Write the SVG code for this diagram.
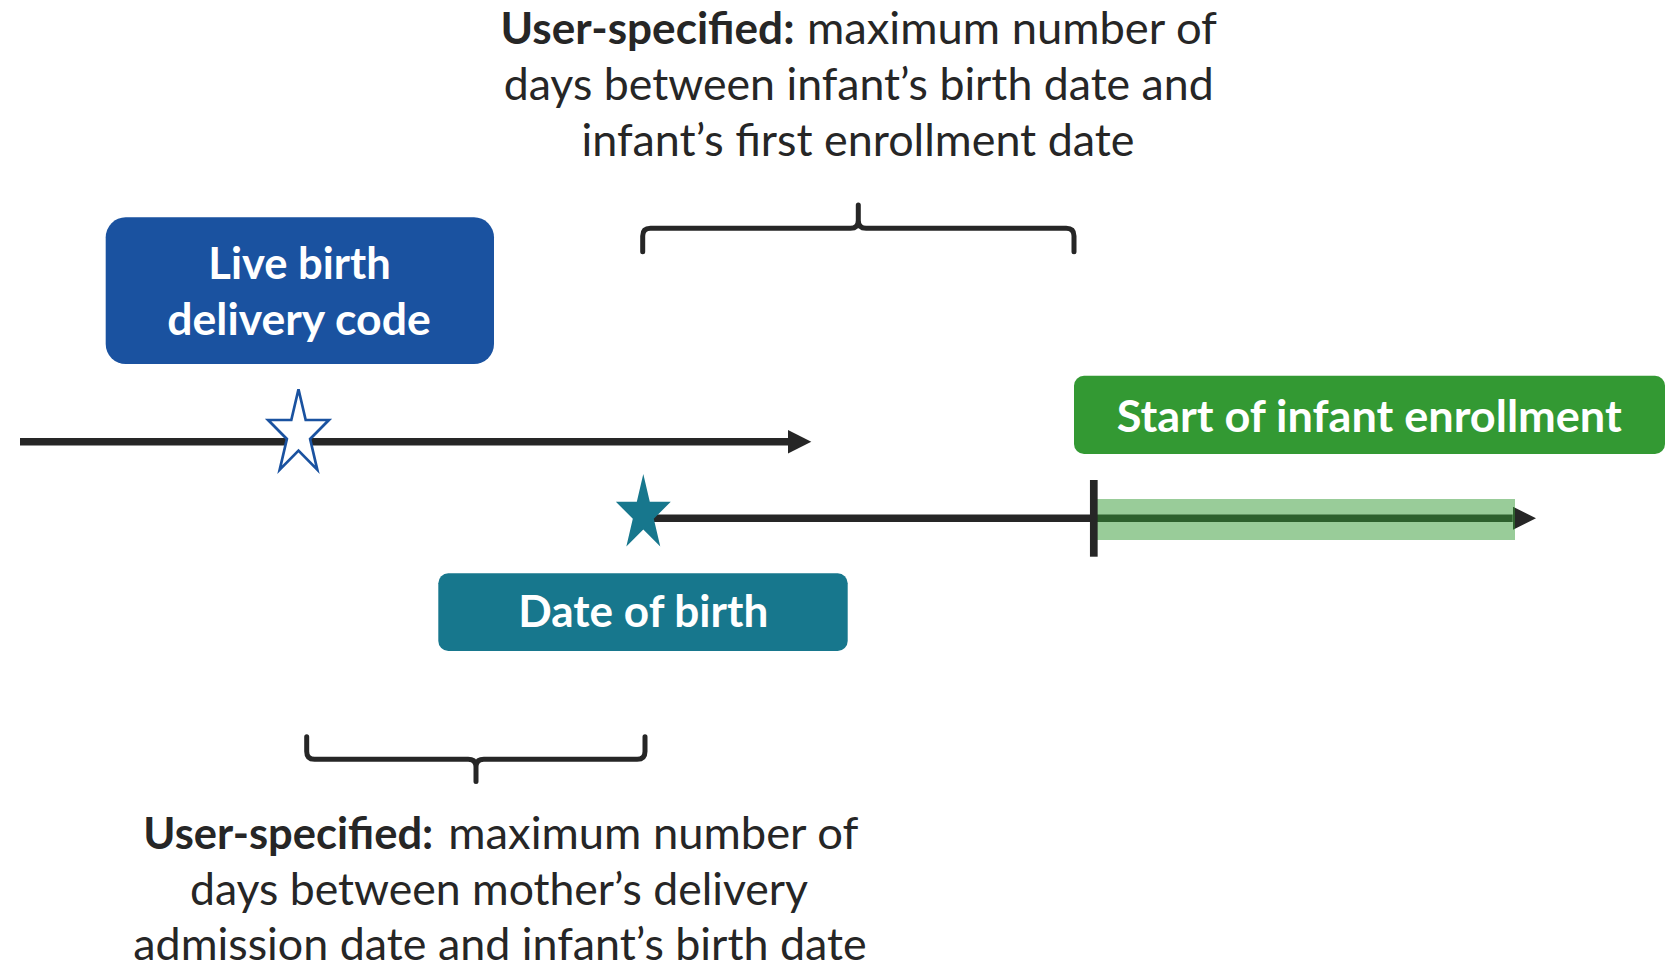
<svg xmlns="http://www.w3.org/2000/svg" width="1670" height="970" viewBox="0 0 1670 970">
  <style>
    .body { font-family: Lato, "Open Sans", sans-serif; font-size: 44px; fill: #262626; }
    .bold { font-weight: bold; }
    .lbl { font-family: Lato, "Open Sans", sans-serif; font-size: 43px; font-weight: bold; fill: #ffffff; }
    .line { stroke: #262626; stroke-width: 7.5; fill: none; }
    .brace { stroke: #262626; stroke-width: 5; fill: none; stroke-linecap: round; stroke-linejoin: round; }
  </style>
  <defs>
    <marker id="arrow" markerUnits="userSpaceOnUse" markerWidth="24" markerHeight="24" refX="0" refY="11.7" orient="auto">
      <path d="M0,0 L23.3,11.7 L0,23.4 Z" fill="#262626"/>
    </marker>
    <path id="star" d="M0,-44.4 L7.18,-13.72 L30.4,-13.72 L11.61,5.24 L18.79,35.92 L0,16.96 L-18.79,35.92 L-11.61,5.24 L-30.4,-13.72 L-7.18,-13.72 Z"/>
  </defs>
  <rect width="1670" height="970" fill="#ffffff"/>

  <g id="connectors">
    <line class="line" x1="20" y1="441.7" x2="788" y2="441.7" marker-end="url(#arrow)"/>
    <line class="line" x1="643" y1="518.3" x2="1512.7" y2="518.3" marker-end="url(#arrow)"/>
    <rect x="1097" y="499" width="418" height="41" fill="#339933" fill-opacity="0.5"/>
    <line x1="1093.8" y1="480" x2="1093.8" y2="556.7" stroke="#262626" stroke-width="7.7"/>
    <path class="brace" d="M642.7,251.7 L642.7,236 Q642.7,228.3 650.5,228.3 L850.5,228.3 Q858.3,228.3 858.3,220.5 L858.3,205 M858.3,220.5 Q858.3,228.3 866.1,228.3 L1066.2,228.3 Q1074,228.3 1074,236 L1074,251.7"/>
    <path class="brace" d="M306.7,736.7 L306.7,751.5 Q306.7,759.3 314.5,759.3 L468.2,759.3 Q476,759.3 476,767 L476,781.5 M476,767 Q476,759.3 483.8,759.3 L637.2,759.3 Q645,759.3 645,751.5 L645,736.7"/>
  </g>

  <g id="top-note">
    <text class="body bold" x="500.5" y="44" textLength="294" lengthAdjust="spacingAndGlyphs">User-specified:</text>
    <text class="body" x="807" y="44" textLength="410" lengthAdjust="spacingAndGlyphs">maximum number of</text>
    <text class="body" x="503.7" y="100" textLength="710" lengthAdjust="spacingAndGlyphs">days between infant’s birth date and</text>
    <text class="body" x="581.5" y="156" textLength="553" lengthAdjust="spacingAndGlyphs">infant’s first enrollment date</text>
  </g>

  <g id="bottom-note">
    <text class="body bold" x="143.3" y="849" textLength="290" lengthAdjust="spacingAndGlyphs">User-specified:</text>
    <text class="body" x="448.3" y="849" textLength="410" lengthAdjust="spacingAndGlyphs">maximum number of</text>
    <text class="body" x="190" y="905" textLength="618" lengthAdjust="spacingAndGlyphs">days between mother’s delivery</text>
    <text class="body" x="133.3" y="960" textLength="733.4" lengthAdjust="spacingAndGlyphs">admission date and infant’s birth date</text>
  </g>

  <g id="live-birth">
    <rect x="105.7" y="217.3" width="388.3" height="146.7" rx="20" fill="#1A52A0"/>
    <text class="lbl" x="208.3" y="279" textLength="182.4" lengthAdjust="spacingAndGlyphs">Live birth</text>
    <text class="lbl" x="167.3" y="335" textLength="263.4" lengthAdjust="spacingAndGlyphs">delivery code</text>
  </g>

  <g id="live-birth-star">
    <use href="#star" transform="translate(298.5,433.7)" fill="#ffffff" stroke="#1A52A0" stroke-width="2.7" stroke-linejoin="miter"/>
  </g>

  <g id="birth-star">
    <use href="#star" transform="translate(643.3,514.1) scale(0.903)" fill="#17778D"/>
  </g>

  <g id="date-of-birth">
    <rect x="438.3" y="573.3" width="409.4" height="77.7" rx="10" fill="#17778D"/>
    <text class="lbl" x="518.3" y="626.7" textLength="250" lengthAdjust="spacingAndGlyphs">Date of birth</text>
  </g>

  <g id="enrollment">
    <rect x="1074" y="375.7" width="591" height="78.3" rx="10" fill="#339933"/>
    <text class="lbl" x="1116.7" y="431.7" textLength="505" lengthAdjust="spacingAndGlyphs">Start of infant enrollment</text>
  </g>
</svg>
